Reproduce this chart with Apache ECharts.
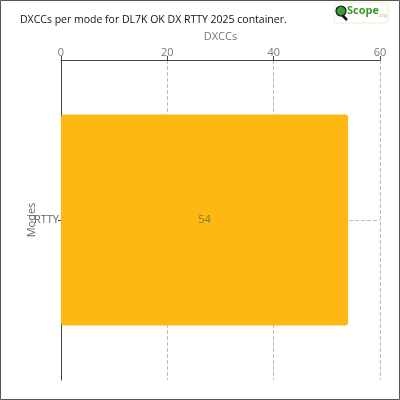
<!DOCTYPE html>
<html><head><meta charset="utf-8">
<script src="https://cdn.jsdelivr.net/npm/echarts@6/dist/echarts.min.js"></script>
<style>html,body{margin:0;padding:0;background:#fff}#c{width:400px;height:400px}</style>
</head><body><div id="c"></div>
<script>
const categories = ['RTTY'];
const dxccValues = [54];
const xTicks = [0, 20, 40, 60];

const chart = echarts.init(document.getElementById('c'));
chart.setOption({
  animation: false,
  textStyle: { fontFamily: 'Open Sans' },
  title: {
    text: 'DXCCs per mode for DL7K OK DX RTTY 2025 container.',
    left: 15, top: 10,
    textStyle: { fontSize: 10.5, fontWeight: 500, color: '#111', fontFamily: 'Open Sans' }
  },
  graphic: [
    { type: 'rect', shape: { x: 0.5, y: 0.5, width: 399, height: 399 }, style: { fill: 'none', stroke: '#555', lineWidth: 1 } },
    { type: 'rect', shape: { x: 334, y: 3, width: 54, height: 20, r: 3 }, style: { fill: '#fff', stroke: '#e8f0c8', lineWidth: 1 } },
    { type: 'line', shape: { x1: 342, y1: 15, x2: 347, y2: 20 }, style: { stroke: '#111', lineWidth: 2.5 } },
    { type: 'circle', shape: { cx: 341, cy: 11, r: 5 }, style: { fill: '#3a9a3a', stroke: '#111', lineWidth: 1.2 } },
    { type: 'text', left: 347, top: 5, style: { text: 'Scope', fill: '#3c9a2c', font: 'bold 11px "Open Sans"' } },
    { type: 'text', left: 378, top: 13, style: { text: '.org', fill: '#a8cc7a', font: '5px "Open Sans"' } }
  ],
  grid: { left: 61, right: 20, top: 60, bottom: 20 },
  xAxis: {
    type: 'value', position: 'top', min: 0, max: 60, interval: 20,
    name: 'DXCCs', nameLocation: 'middle', nameGap: 16,
    nameTextStyle: { color: '#777', fontSize: 11 },
    axisLine: { show: true, lineStyle: { color: '#444' } },
    axisTick: { show: true, length: 4, lineStyle: { color: '#444' } },
    axisLabel: { color: '#777', fontSize: 11, margin: 2,
      formatter: v => xTicks.includes(v) ? String(v) : '' },
    splitLine: { show: true, lineStyle: { type: 'dashed', color: '#bbb' } }
  },
  yAxis: {
    type: 'category', data: categories,
    name: 'Modes', nameLocation: 'middle', nameGap: 24, nameMoveOverlap: false,
    nameTextStyle: { color: '#666', fontSize: 11 },
    axisLine: { show: true, lineStyle: { color: '#444' } },
    axisTick: { show: true, alignWithLabel: true, length: 3, lineStyle: { color: '#444' } },
    axisLabel: { color: '#666', fontSize: 11, margin: 2 },
    splitLine: { show: false }
  },
  series: [{
    type: 'bar', data: dxccValues, barWidth: '66%', z: 3,
    itemStyle: { color: '#fdb813', borderRadius: 3 },
    label: { show: true, position: 'inside', color: '#7a7a3a', fontSize: 11 },
    markLine: {
      silent: true, symbol: 'none', z: 1, label: { show: false },
      lineStyle: { type: 'dashed', color: '#bbb', width: 1 },
      data: [{ yAxis: categories[0] }]
    }
  }]
});
</script></body></html>
